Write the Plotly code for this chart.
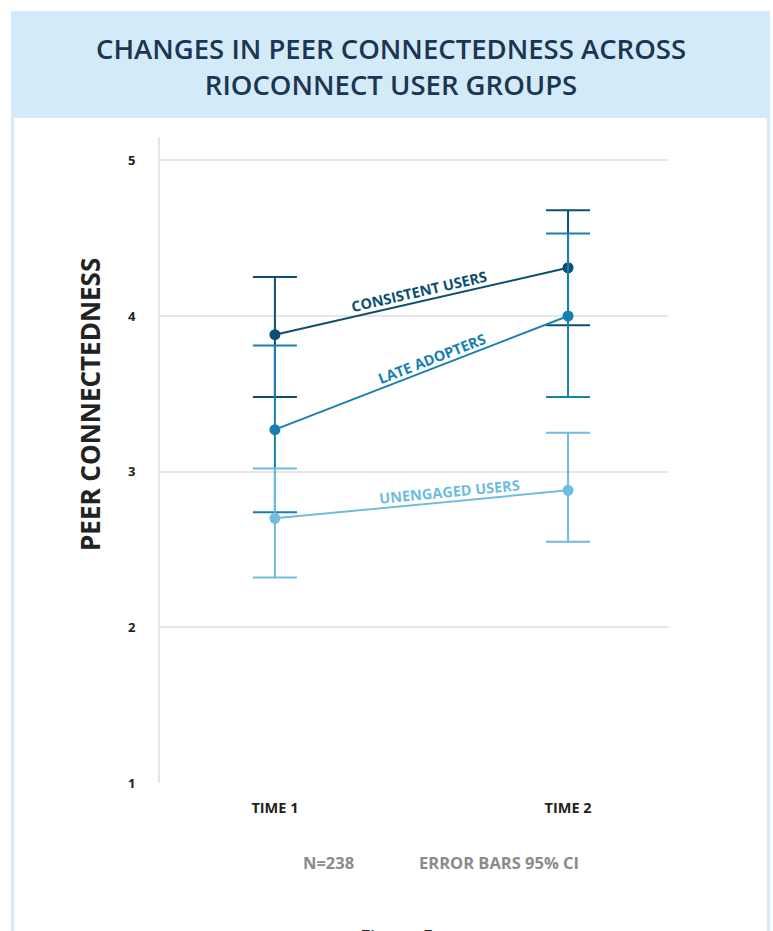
import math
import plotly.graph_objects as go

# ---------------- data ----------------
times = ["TIME 1", "TIME 2"]
groups = ["CONSISTENT USERS", "LATE ADOPTERS", "UNENGAGED USERS"]
consistent_mean = [3.88, 4.31]
consistent_low = [3.48, 3.94]
consistent_high = [4.25, 4.68]
late_mean = [3.27, 4.00]
late_low = [2.74, 3.48]
late_high = [3.81, 4.53]
unengaged_mean = [2.70, 2.88]
unengaged_low = [2.32, 2.55]
unengaged_high = [3.02, 3.25]
y_ticks = [1, 2, 3, 4, 5]

colors = ["#0d4f6e", "#1680b0", "#6fbcdd"]
series = [
    (groups[0], consistent_mean, consistent_low, consistent_high, colors[0]),
    (groups[1], late_mean, late_low, late_high, colors[1]),
    (groups[2], unengaged_mean, unengaged_low, unengaged_high, colors[2]),
]

W, H = 773, 931
ML, MR, MT, MB = 160, 105, 137, 148
PW, PH = W - ML - MR, H - MT - MB
XR = [-0.392, 1.341]
YR = [1, 5.15]

def px_x(p):
    return (p - ML) / PW

def px_y(p):
    return (H - MB - p) / PH

fig = go.Figure()
for name, m, lo, hi, c in series:
    fig.add_trace(go.Scatter(
        x=times, y=m, mode="lines+markers", name=name,
        line=dict(color=c, width=2),
        marker=dict(color=c, size=11),
        error_y=dict(type="data", symmetric=False,
                     array=[h - v for h, v in zip(hi, m)],
                     arrayminus=[v - l for v, l in zip(m, lo)],
                     color=c, thickness=2, width=22),
        showlegend=False, hoverinfo="skip",
    ))

# line labels along the lines
sx = PW / (XR[1] - XR[0])
sy = PH / (YR[1] - YR[0])
label_pos = [0.49, 0.536, 0.597]
annotations = []
for (name, m, lo, hi, c), t in zip(series, label_pos):
    yv = m[0] + (m[1] - m[0]) * t
    ang = -math.degrees(math.atan((m[1] - m[0]) * sy / sx))
    annotations.append(dict(
        x=t, y=yv, xref="x", yref="y", text=name, showarrow=False,
        textangle=ang, yshift=10, xanchor="center", yanchor="middle",
        font=dict(family="Open Sans", size=14.5, color=c, weight="bold"),
    ))

# title
annotations.append(dict(
    x=px_x(391), y=px_y(66), xref="paper", yref="paper",
    text="CHANGES IN PEER CONNECTEDNESS ACROSS<br>RIOCONNECT USER GROUPS",
    showarrow=False, xanchor="center", yanchor="middle",
    font=dict(family="Open Sans", size=27.5, color="#1b3552", weight=600),
))
# y axis title
annotations.append(dict(
    x=px_x(90), y=px_y(405), xref="paper", yref="paper",
    text="PEER CONNECTEDNESS", textangle=-90, showarrow=False,
    xanchor="center", yanchor="middle",
    font=dict(family="Open Sans", size=26, color="#222222", weight="bold"),
))
# notes
annotations.append(dict(
    x=px_x(328), y=px_y(862), xref="paper", yref="paper", text="N=238",
    showarrow=False, xanchor="center", yanchor="middle",
    font=dict(family="Open Sans", size=16.5, color="#8a8a8a", weight="bold"),
))
annotations.append(dict(
    x=px_x(499), y=px_y(862), xref="paper", yref="paper", text="ERROR BARS 95% CI",
    showarrow=False, xanchor="center", yanchor="middle",
    font=dict(family="Open Sans", size=16.5, color="#8a8a8a", weight="bold"),
))
annotations.append(dict(
    x=px_x(395), y=px_y(922), xref="paper", yref="paper", text="<i>Figure 5</i>",
    showarrow=False, xanchor="center", yanchor="top",
    font=dict(family="Open Sans", size=21, color="#222222"),
))

shapes = [
    dict(type="rect", xref="paper", yref="paper", layer="below",
         x0=px_x(11), x1=px_x(770), y0=px_y(1000), y1=px_y(11),
         fillcolor="#d3eaf8", line=dict(width=0)),
    dict(type="rect", xref="paper", yref="paper", layer="below",
         x0=px_x(14), x1=px_x(767), y0=px_y(1000), y1=px_y(118),
         fillcolor="#ffffff", line=dict(width=0)),
]

fig.update_layout(
    width=W, height=H,
    margin=dict(l=ML, r=MR, t=MT, b=MB, autoexpand=False),
    paper_bgcolor="#ffffff", plot_bgcolor="rgba(0,0,0,0)",
    annotations=annotations, shapes=shapes,
    font=dict(family="Open Sans"),
)
fig.update_xaxes(
    range=XR, showgrid=False, zeroline=False, showline=False,
    ticks="outside", ticklen=12, tickcolor="rgba(0,0,0,0)",
    tickfont=dict(family="Open Sans", size=14.5, color="#222222", weight="bold"),
)
fig.update_yaxes(
    range=YR, tickvals=y_ticks, showgrid=True, gridcolor="#e6e6e6", gridwidth=2,
    zeroline=False, showline=True, linecolor="#e6e6e6", linewidth=2,
    ticks="outside", ticklen=20, tickcolor="rgba(0,0,0,0)",
    tickfont=dict(family="Open Sans", size=13, color="#222222", weight="bold"),
)

fig.write_html(
    "out.html",
    config={"displayModeBar": False},
    post_script="document.body.style.margin='0px';document.body.style.overflow='hidden';",
)
